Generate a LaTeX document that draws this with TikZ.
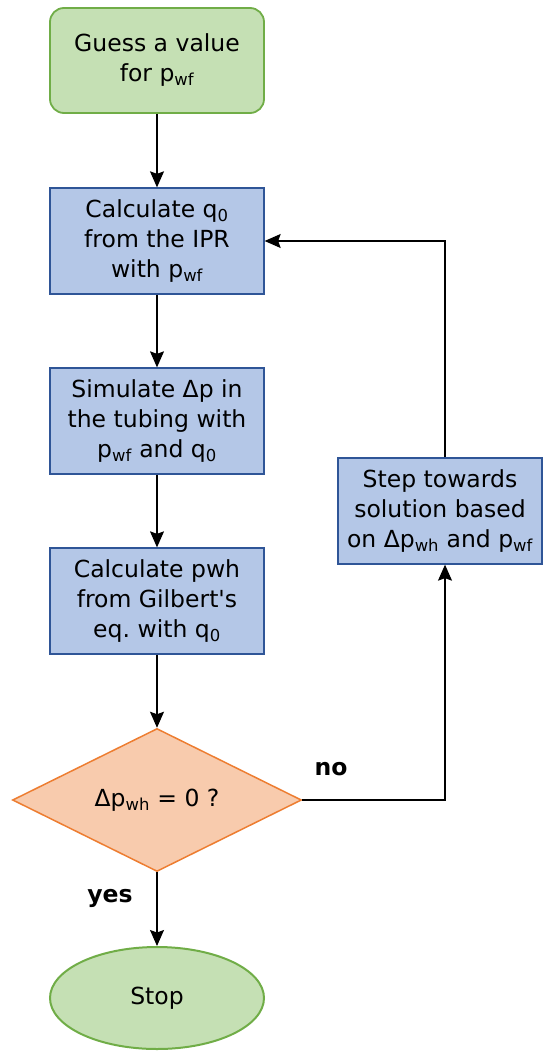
\documentclass[tikz,border=0pt]{standalone}
\usepackage{fontspec}
\setmainfont{DejaVu Sans}
\usetikzlibrary{shapes.geometric,arrows.meta}
\definecolor{startfill}{HTML}{C5E0B4}
\definecolor{startline}{HTML}{70AD47}
\definecolor{stepfill}{HTML}{B4C7E7}
\definecolor{stepline}{HTML}{2F5597}
\definecolor{askfill}{HTML}{F8CBAD}
\definecolor{askline}{HTML}{ED7D31}
\tikzset{
  every node/.style={font=\fontsize{23.5}{30}\selectfont, align=center, inner sep=0pt},
  terminal box/.style={draw=startline, fill=startfill, line width=1.8pt,
      rounded corners=14pt, minimum width=214pt, minimum height=105pt},
  process box/.style={draw=stepline, fill=stepfill, line width=1.3pt,
      minimum width=214pt, minimum height=106pt},
  decision box/.style={diamond, draw=askline, fill=askfill, line width=1.5pt,
      aspect=2, minimum width=289pt, minimum height=143pt},
  stop box/.style={ellipse, draw=startline, fill=startfill, line width=2pt,
      minimum width=214pt, minimum height=102pt},
  flow/.style={draw=black, line width=1.2pt, -{Stealth[length=16pt,width=14pt,inset=2.5pt]}},
  answer/.style={font=\fontsize{23.5}{30}\selectfont\bfseries}
}
\begin{document}
\begin{tikzpicture}[x=1pt,y=-1pt]
\useasboundingbox (0,0) rectangle (543,1051);
% main column
\node (Guess) [terminal box] at (157,60.5) {Guess a value\\for p\textsubscript{wf}};
\node (IPR) [process box] at (157,241) {Calculate q\textsubscript{0}\\from the IPR\\with p\textsubscript{wf}};
\node (Tubing) [process box] at (157,421) {Simulate Δp in\\the tubing with\\p\textsubscript{wf} and q\textsubscript{0}};
\node (Gilbert) [process box] at (157,601) {Calculate pwh\\from Gilbert\textquotesingle s\\eq.\ with q\textsubscript{0}};
\node (Check) [decision box] at (157,800) {Δp\textsubscript{wh} = 0 ?};
\node (Stop) [stop box] at (157,998) {Stop};
% loop back
\node (Update) [process box, minimum width=204pt] at (440,511) {Step towards\\solution based\\on Δp\textsubscript{wh} and p\textsubscript{wf}};
\coordinate (UpdateIn) at ([xshift=5pt]Update.south);
\coordinate (UpdateOut) at ([xshift=5pt]Update.north);
\draw[flow] (Guess) -- (IPR);
\draw[flow] (IPR) -- (Tubing);
\draw[flow] (Tubing) -- (Gilbert);
\draw[flow] (Gilbert) -- (Check);
\draw[flow] (Check) -- (Stop);
\draw[flow] (Check.east) -| (UpdateIn);
\draw[flow] (UpdateOut) |- (IPR.east);
\node (Yes) [answer] at (110,898) {yes};
\node (No) [answer] at (331,769) {no};
\end{tikzpicture}
\end{document}
